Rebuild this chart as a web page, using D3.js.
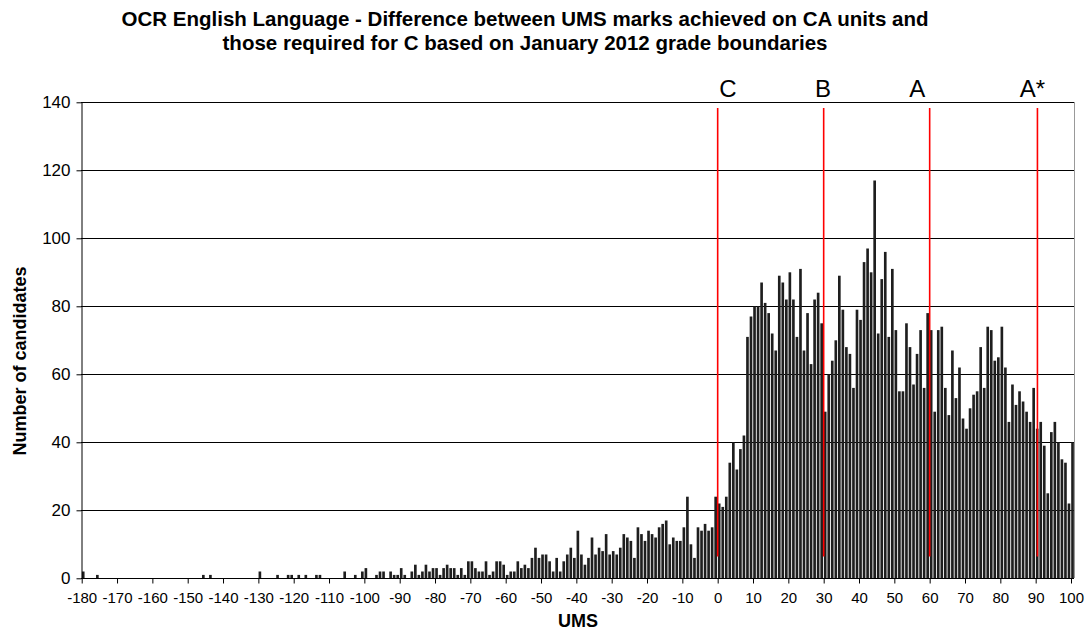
<!DOCTYPE html>
<html><head><meta charset="utf-8">
<script src="https://cdn.jsdelivr.net/npm/d3@7"></script>
<style>body{margin:0;background:#fff;} svg{display:block;font-family:Arial,"Liberation Sans",sans-serif;}</style>
</head><body><svg id="c" width="1088" height="638"></svg>
<script>
const titleLines = ["OCR English Language - Difference between UMS marks achieved on CA units and",
                    "those required for C based on January 2012 grade boundaries"];
const xTitle = "UMS";
const yTitle = "Number of candidates";
const umsStart = -180, umsEnd = 100;
const counts = [
  2,0,0,0,1,0,0,0,0,0,
  0,0,0,0,0,0,0,0,0,0,
  0,0,0,0,0,0,0,0,0,0,
  0,0,0,0,1,0,1,0,0,0,
  0,0,0,0,0,0,0,0,0,0,
  2,0,0,0,0,1,0,0,1,1,
  0,1,0,1,0,0,1,1,0,0,
  0,0,0,0,2,0,0,1,0,2,
  3,0,0,1,2,2,0,2,1,1,
  3,1,0,2,4,1,2,4,2,3,
  3,1,3,4,3,3,1,3,1,5,
  5,3,2,2,5,1,2,5,5,4,
  1,2,2,5,3,4,3,6,9,6,
  7,7,5,2,6,2,5,7,9,6,
  14,7,4,6,12,7,9,8,13,7,
  8,7,9,13,12,11,6,15,13,11,
  14,13,12,15,16,17,10,12,11,11,
  15,24,10,6,15,14,16,14,15,24,
  22,21,24,34,40,32,38,42,71,77,
  80,80,87,81,78,72,67,89,87,82,
  90,82,71,91,67,78,63,82,84,75,
  49,60,64,70,89,79,68,66,56,79,
  76,93,97,90,117,72,88,96,71,91,
  73,55,55,75,68,57,66,73,56,78,
  73,49,73,74,56,48,67,53,62,47,
  44,50,54,55,68,56,74,73,64,65,
  74,62,46,57,51,55,52,49,46,56,
  44,46,39,25,43,46,40,35,34,22,
  40
];
const ums = d3.range(umsStart, umsEnd + 1);
const xTicks = d3.range(-180, 101, 10);
const yTicks = [0,20,40,60,80,100,120,140];
const gradeNames = ["C","B","A","A*"];
const gradeLineX = [0, 30, 60, 90.5];
const gradeLineFrom = [6.4, 6.4, 6.4, 6.4];
const gradeLineTo = [138.3, 138.3, 138.3, 138.3];
const gradeLabelX = [2.9, 29.8, 56.5, 89.1];

const FONT = "Arial, 'Liberation Sans', sans-serif";
const svg = d3.select("#c");
const L = 81, R = 1074;
const x = d3.scaleLinear().domain([umsStart, umsEnd]).range([81.7, 1071]);
const y = d3.scaleLinear().domain([0, 140]).range([578.3, 102.3]);

// grid
svg.append("g").selectAll("line").data(yTicks.filter(d=>d>0)).join("line")
  .attr("x1", L).attr("x2", R).attr("y1", d=>Math.round(y(d))+0.5).attr("y2", d=>Math.round(y(d))+0.5)
  .attr("stroke", "#000").attr("stroke-width", 1);
// right border
svg.append("line").attr("x1", R+0.5).attr("x2", R+0.5).attr("y1", Math.round(y(140))).attr("y2", Math.round(y(0)))
  .attr("stroke", "#999");

// bars
const bw = 2.65;
svg.append("g").selectAll("rect").data(ums.map((u,i)=>({u, c: counts[i]})).filter(d=>d.c>0)).join("rect")
  .attr("x", d=>x(d.u)+0.2).attr("width", bw)
  .attr("y", d=>y(d.c)).attr("height", d=>y(0)-y(d.c))
  .attr("fill", "#1e1e1e");

// grade lines
svg.append("g").selectAll("line").data(gradeLineX).join("line")
  .attr("x1", d=>x(d)).attr("x2", d=>x(d))
  .attr("y1", (d,i)=>y(gradeLineTo[i])).attr("y2", (d,i)=>y(gradeLineFrom[i]))
  .attr("stroke", "#ff0000").attr("stroke-width", 1.6);
svg.append("g").selectAll("text").data(gradeNames).join("text")
  .attr("x", (d,i)=>x(gradeLabelX[i])).attr("y", 97).attr("text-anchor","middle")
  .attr("font-size", 24).attr("fill","#000").text(d=>d);

// axes
const yAxis = svg.append("g").attr("transform", `translate(${L+0.5},0)`)
  .call(d3.axisLeft(y).tickValues(yTicks).tickSize(5).tickSizeOuter(0).tickPadding(6).tickFormat(d=>String(d)));
yAxis.selectAll("text").attr("font-size", 17).attr("fill","#000").attr("font-family",FONT);
yAxis.selectAll("line,path").attr("stroke","#000");

const xAxis = svg.append("g").attr("transform", `translate(0,${Math.round(y(0))+0.5})`)
  .call(d3.axisBottom(x).tickValues(xTicks).tickSize(5).tickSizeOuter(0).tickPadding(9).tickFormat(d=>String(d)));
xAxis.select("path.domain").attr("d", `M${L},0H${R}`);
xAxis.selectAll("text").attr("font-size", 15).attr("fill","#000").attr("font-family",FONT);
xAxis.selectAll("line,path").attr("stroke","#000");

// titles
svg.append("g").selectAll("text").data(titleLines).join("text")
  .attr("x", 525).attr("y", (d,i)=>26 + i*24).attr("text-anchor","middle")
  .attr("font-size", 20.5).attr("font-weight","bold").text(d=>d);
svg.append("text").attr("x", 578).attr("y", 627).attr("text-anchor","middle")
  .attr("font-size", 18).attr("font-weight","bold").text(xTitle);
svg.append("text").attr("transform","translate(26,361) rotate(-90)").attr("text-anchor","middle")
  .attr("font-size", 18).attr("font-weight","bold").text(yTitle);
</script></body></html>
